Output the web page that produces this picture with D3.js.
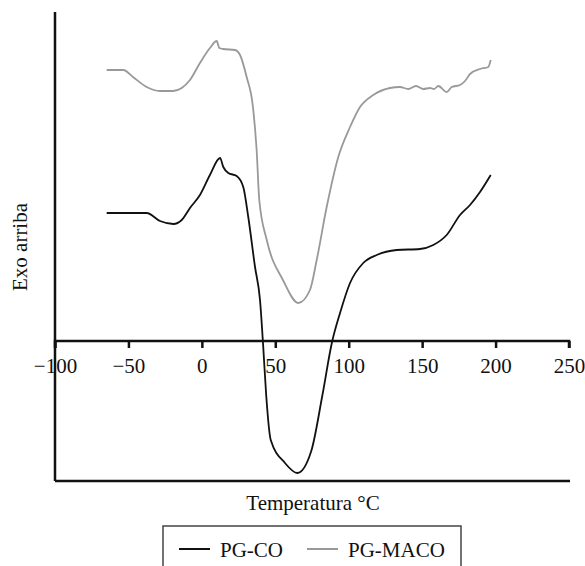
<!DOCTYPE html>
<html>
<head>
<meta charset="utf-8">
<script src="https://cdn.jsdelivr.net/npm/d3@7"></script>
<style>
    body { margin: 0; background: #fff; }
    text { font-family: "Liberation Serif", "DejaVu Serif", serif; fill: #111; }
</style>
</head>
<body>
<svg id="chart" width="585" height="566"></svg>
<script>
// DSC curves, temperature (°C) vs heat flow (arbitrary units, exo up)
var coTemp = [-64.8, -37.6, -28.5, -19.4, -13.7, -8.1, -1.3, 5.5, 12.4, 14.6, 18.0, 23.7, 28.2, 31.6, 36.2, 39.6, 41.8, 43.8, 46.9, 56.6, 65.0, 74.5, 82.1, 88.5, 94.1, 100.9, 109.9, 119.1, 132.7, 148.5, 157.6, 166.7, 175.8, 182.6, 189.4, 196.7];
var coFlow = [12.8, 12.8, 12.0, 11.7, 12.1, 13.3, 14.6, 16.6, 18.3, 17.4, 16.8, 16.5, 15.4, 12.4, 7.4, 4.1, -0.6, -5.4, -9.9, -12.2, -13.2, -11.0, -5.4, -0.2, 2.8, 5.8, 7.8, 8.6, 9.1, 9.2, 9.6, 10.6, 12.6, 13.6, 14.9, 16.6];

var macoTemp = [-64.8, -53.5, -46.9, -37.6, -28.5, -19.7, -13.7, -8.1, -1.3, 5.5, 10.1, 11.9, 14.4, 22.6, 26.0, 30.5, 34.8, 37.3, 39.1, 44.2, 55.2, 65.7, 73.6, 78.2, 85.0, 92.9, 100.9, 107.7, 116.7, 128.1, 134.9, 140.6, 145.8, 150.8, 155.3, 158.1, 161.0, 166.7, 170.1, 175.8, 179.2, 182.6, 189.4, 195.0, 196.7];
var macoFlow = [27.1, 27.1, 26.4, 25.4, 25.0, 25.0, 25.3, 26.1, 27.8, 29.3, 30.0, 29.3, 29.2, 29.1, 28.6, 26.4, 23.4, 19.1, 14.1, 10.1, 6.1, 3.8, 5.1, 8.1, 13.4, 18.4, 21.4, 23.4, 24.6, 25.3, 25.4, 25.2, 25.5, 25.2, 25.3, 25.2, 25.5, 24.9, 25.4, 25.6, 26.0, 26.7, 27.2, 27.4, 28.1];

var xTicks = [-100, -50, 0, 50, 100, 150, 200, 250];
var seriesNames = ["PG-CO", "PG-MACO"];
var seriesColors = ["#111", "#999"];

var svg = d3.select("#chart");

var x = d3.scaleLinear().domain([-100, 250]).range([55, 569]);
var y = d3.scaleLinear().domain([-14, 33]).range([481, 11]);

//  Frame ---
svg.append("line")
    .attr("x1", 55).attr("x2", 55)
    .attr("y1", y(32.9)).attr("y2", y(-14))
    .attr("stroke", "#111").attr("stroke-width", 2.5);
svg.append("line")
    .attr("x1", 55).attr("x2", 570)
    .attr("y1", y(-14)).attr("y2", y(-14))
    .attr("stroke", "#111").attr("stroke-width", 2.5);

//  X axis at zero ---
var xAxis = d3.axisBottom(x)
    .tickValues(xTicks)
    .tickSize(7)
    .tickPadding(10)
    .tickFormat(d3.format("d"));
var gx = svg.append("g")
    .attr("transform", "translate(0," + y(0) + ")")
    .call(xAxis);
gx.select(".domain").attr("stroke", "#111").attr("stroke-width", 2.5)
    .attr("d", "M" + x(-100) + ",7V0H" + x(250) + "V7");
gx.selectAll(".tick line").attr("stroke", "#111").attr("stroke-width", 2.5);
gx.selectAll(".tick text")
    .style("font-family", "'Liberation Serif', serif")
    .style("font-size", "21px")
    .attr("fill", "#111");

//  Curves ---
var line = d3.line()
    .x(function (d) { return x(d[0]); })
    .y(function (d) { return y(d[1]); })
    .curve(d3.curveMonotoneX);

var macoData = d3.zip(macoTemp, macoFlow);
var coData = d3.zip(coTemp, coFlow);

svg.append("path")
    .datum(macoData)
    .attr("fill", "none")
    .attr("stroke", seriesColors[1])
    .attr("stroke-width", 1.8)
    .attr("d", line);
svg.append("path")
    .datum(coData)
    .attr("fill", "none")
    .attr("stroke", seriesColors[0])
    .attr("stroke-width", 1.8)
    .attr("d", line);

//  Titles ---
svg.append("text")
    .attr("transform", "translate(27,247) rotate(-90)")
    .attr("text-anchor", "middle")
    .style("font-size", "21px")
    .text("Exo arriba");
svg.append("text")
    .attr("x", 313).attr("y", 510)
    .attr("text-anchor", "middle")
    .style("font-size", "21px")
    .text("Temperatura °C");

//  Legend ---
svg.append("rect")
    .attr("x", 163).attr("y", 526)
    .attr("width", 298).attr("height", 60)
    .attr("fill", "none")
    .attr("stroke", "#444").attr("stroke-width", 1.5);
var legendX = [179, 307];
var legend = svg.selectAll(".legendItem").data(seriesNames)
    .enter().append("g")
    .attr("class", "legendItem")
    .attr("transform", function (d, i) { return "translate(" + legendX[i] + ",549)"; });
legend.append("line")
    .attr("x1", 0).attr("x2", 31)
    .attr("stroke", function (d, i) { return seriesColors[i]; })
    .attr("stroke-width", 2);
legend.append("text")
    .attr("x", 41).attr("y", 8)
    .style("font-size", "21px")
    .text(function (d) { return d; });
</script>
</body>
</html>
